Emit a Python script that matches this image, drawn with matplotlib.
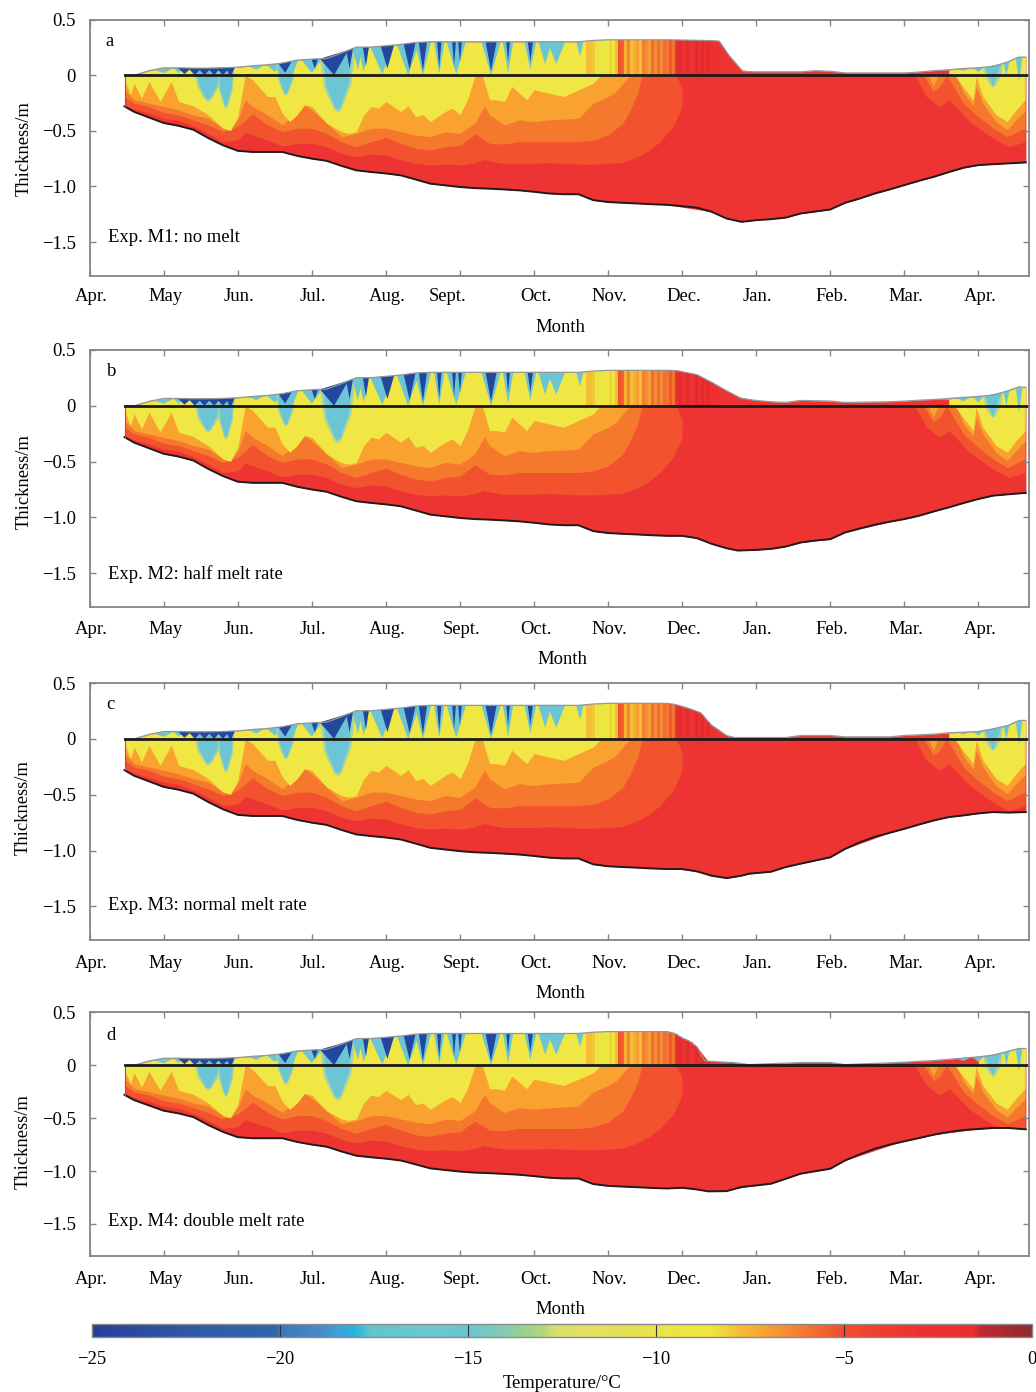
import numpy as np
import matplotlib
matplotlib.use("Agg")
import matplotlib.pyplot as plt
from matplotlib.cm import ScalarMappable
from matplotlib.colors import LinearSegmentedColormap, Normalize
from matplotlib.transforms import ScaledTranslation

plt.rcParams["font.family"] = ["Liberation Serif", "DejaVu Serif"]

W = 1036
H = 1392

month_labels = ["Apr.", "May", "Jun.", "Jul.", "Aug.", "Sept.", "Oct.", "Nov.", "Dec.", "Jan.", "Feb.", "Mar.", "Apr."]
depth_ticks = [0.5, 0, -0.5, -1.0, -1.5]
depth_labels = ["0.5", "0", "\u22120.5", "\u22121.0", "\u22121.5"]
temp_ticks = [-25, -20, -15, -10, -5, 0]
temp_labels = ["\u221225", "\u221220", "\u221215", "\u221210", "\u22125", "0"]

# ice base, April to December (same in all runs)
bottom_x = [0.47, 0.6, 0.8, 1.0, 1.2, 1.4, 1.6, 1.8, 2.0, 2.2, 2.4, 2.6, 2.8, 3.0, 3.2, 3.4, 3.6, 3.8, 4.0, 4.2,
            4.4, 4.6, 4.8, 5.0, 5.2, 5.4, 5.6, 5.8, 6.0, 6.2, 6.4, 6.6, 6.8, 7.0, 7.2, 7.4, 7.6, 7.8]
bottom_y = [-0.28, -0.33, -0.38, -0.43, -0.455, -0.49, -0.565, -0.63, -0.68, -0.69, -0.69, -0.69, -0.725, -0.75,
            -0.77, -0.815, -0.855, -0.87, -0.883, -0.90, -0.937, -0.975, -0.99, -1.005, -1.015, -1.02, -1.027,
            -1.035, -1.048, -1.063, -1.07, -1.07, -1.123, -1.14, -1.147, -1.153, -1.16, -1.165]

# ice base, winter, one for each run
bottom_a_x = [8.0, 8.2, 8.4, 8.6, 8.8, 9.0, 9.2, 9.4, 9.6, 9.8, 10.0, 10.2, 10.4, 10.6, 10.8, 11.0, 11.2, 11.4, 11.6,
              11.8, 12.0, 12.2, 12.4, 12.64]
bottom_a_y = [-1.177, -1.19, -1.228, -1.288, -1.318, -1.303, -1.294, -1.28, -1.243, -1.225, -1.207, -1.147, -1.108,
              -1.063, -1.027, -0.988, -0.949, -0.913, -0.871, -0.832, -0.808, -0.80, -0.793, -0.784]
bottom_b_x = [8.0, 8.2, 8.4, 8.6, 8.75, 9.0, 9.2, 9.4, 9.6, 9.8, 10.0, 10.2, 10.4, 10.6, 10.8, 11.0, 11.2, 11.4, 11.6,
              11.8, 12.0, 12.2, 12.4, 12.64]
bottom_b_y = [-1.165, -1.186, -1.237, -1.276, -1.297, -1.291, -1.282, -1.261, -1.225, -1.207, -1.195, -1.135, -1.099,
              -1.066, -1.039, -1.015, -0.985, -0.946, -0.91, -0.871, -0.835, -0.805, -0.793, -0.78]
bottom_c_x = [8.0, 8.2, 8.4, 8.6, 8.8, 8.9, 9.2, 9.4, 9.6, 10.0, 10.2, 10.4, 10.6, 10.8, 11.0, 11.2, 11.4, 11.6, 11.8,
              12.0, 12.2, 12.4, 12.64]
bottom_c_y = [-1.165, -1.186, -1.225, -1.246, -1.225, -1.207, -1.189, -1.147, -1.117, -1.06, -0.985, -0.925, -0.877,
              -0.841, -0.805, -0.766, -0.73, -0.70, -0.685, -0.667, -0.655, -0.66, -0.655]
bottom_d_x = [8.0, 8.2, 8.35, 8.6, 8.8, 9.0, 9.2, 9.4, 9.6, 10.0, 10.2, 10.4, 10.6, 10.8, 11.0, 11.2, 11.4, 11.6, 11.8,
              12.0, 12.2, 12.4, 12.64]
bottom_d_y = [-1.158, -1.174, -1.192, -1.19, -1.151, -1.136, -1.12, -1.073, -1.025, -0.978, -0.90, -0.842, -0.789,
              -0.751, -0.719, -0.688, -0.656, -0.631, -0.612, -0.603, -0.593, -0.593, -0.606]

# snow surface, April to December
top_x = [0.47, 0.6, 0.8, 1.0, 1.2, 1.4, 1.6, 1.8, 2.0, 2.2, 2.4, 2.6, 2.8, 3.0, 3.2, 3.4, 3.6, 3.8, 4.0, 4.2, 4.4, 4.6,
         6.6, 6.8, 7.0, 7.8]
top_y = [0.0, 0.0, 0.04, 0.066, 0.066, 0.063, 0.063, 0.066, 0.072, 0.084, 0.093, 0.108, 0.135, 0.144, 0.15, 0.198,
         0.252, 0.252, 0.264, 0.276, 0.294, 0.30, 0.30, 0.312, 0.318, 0.318]

# snow surface, winter, one for each run
top_a_x = [8.4, 8.5, 8.64, 8.82, 9.0, 9.6, 9.8, 10.0, 10.2, 11.0, 11.14, 11.4, 11.6, 11.8, 12.0, 12.2, 12.4, 12.54, 12.64]
top_a_y = [0.31, 0.306, 0.17, 0.033, 0.03, 0.03, 0.04, 0.035, 0.02, 0.02, 0.025, 0.04, 0.048, 0.06, 0.066, 0.078, 0.12, 0.162, 0.162]
top_b_x = [7.92, 8.0, 8.2, 8.4, 8.6, 8.8, 9.0, 9.2, 9.4, 9.6, 10.0, 10.2, 10.8, 11.0, 11.2, 11.5, 11.6, 12.0, 12.2, 12.4, 12.55, 12.64]
top_b_y = [0.315, 0.306, 0.279, 0.21, 0.135, 0.066, 0.048, 0.036, 0.03, 0.048, 0.042, 0.03, 0.036, 0.042, 0.05, 0.06, 0.066, 0.084, 0.096, 0.135, 0.17, 0.165]
top_c_x = [7.92, 8.1, 8.25, 8.4, 8.6, 8.7, 9.4, 9.6, 10.0, 10.2, 10.8, 11.0, 11.4, 11.6, 12.0, 12.2, 12.4, 12.55, 12.64]
top_c_y = [0.306, 0.27, 0.234, 0.12, 0.03, 0.012, 0.012, 0.03, 0.03, 0.018, 0.018, 0.03, 0.042, 0.054, 0.066, 0.09, 0.12, 0.165, 0.165]
top_d_x = [7.9, 8.0, 8.1, 8.2, 8.3, 8.35, 8.7, 8.9, 9.6, 10.0, 10.2, 10.9, 11.4, 12.0, 12.2, 12.4, 12.55, 12.64]
top_d_y = [0.30, 0.259, 0.227, 0.174, 0.047, 0.038, 0.025, 0.006, 0.025, 0.025, 0.006, 0.025, 0.044, 0.079, 0.095, 0.132, 0.158, 0.158]

# isotherm depths, growth season
iso1_x = [0.47, 0.6, 0.8, 1.0, 1.2, 1.4, 1.6, 1.8, 2.0, 2.1, 2.2, 2.4, 2.6, 2.8, 3.0, 3.2, 3.4, 3.6, 3.8, 4.0, 4.2, 4.4,
          4.6, 4.8, 5.0, 5.2, 5.33, 5.4, 5.6, 5.8, 6.0, 6.2, 6.4, 6.6, 6.8, 7.0, 7.2, 7.4, 7.56, 7.7, 7.88, 8.0, 8.0, 7.92]
iso1_y = [-0.267, -0.306, -0.342, -0.387, -0.408, -0.456, -0.523, -0.598, -0.583, -0.514, -0.538, -0.583, -0.637,
          -0.613, -0.613, -0.643, -0.703, -0.733, -0.709, -0.718, -0.763, -0.793, -0.808, -0.799, -0.808, -0.787,
          -0.757, -0.772, -0.793, -0.793, -0.793, -0.787, -0.793, -0.799, -0.799, -0.793, -0.784, -0.733, -0.673,
          -0.598, -0.462, -0.282, -0.12, 0.0]
iso2_x = [0.47, 0.6, 0.8, 1.0, 1.2, 1.4, 1.6, 1.8, 2.0, 2.2, 2.4, 2.6, 2.8, 3.0, 3.2, 3.4, 3.6, 3.8, 4.0, 4.2, 4.4, 4.6,
          4.8, 5.0, 5.2, 5.4, 5.6, 5.8, 6.0, 6.2, 6.4, 6.6, 6.8, 7.0, 7.2, 7.3, 7.4, 7.46]
iso2_y = [-0.192, -0.252, -0.282, -0.336, -0.357, -0.402, -0.447, -0.508, -0.462, -0.348, -0.447, -0.508, -0.477,
          -0.477, -0.523, -0.598, -0.643, -0.598, -0.559, -0.613, -0.658, -0.673, -0.643, -0.628, -0.529, -0.613,
          -0.619, -0.598, -0.598, -0.598, -0.598, -0.598, -0.583, -0.538, -0.432, -0.312, -0.162, 0.0]
iso3_x = [0.47, 0.6, 0.8, 1.0, 1.2, 1.4, 1.6, 1.8, 1.9, 2.0, 2.1, 2.2, 2.4, 2.6, 2.8, 2.9, 3.0, 3.2, 3.4, 3.6, 3.8, 4.0,
          4.2, 4.4, 4.6, 4.8, 5.0, 5.2, 5.33, 5.4, 5.6, 5.8, 6.0, 6.2, 6.4, 6.6, 6.8, 7.0, 7.11, 7.2, 7.3]
iso3_y = [-0.132, -0.222, -0.252, -0.282, -0.312, -0.357, -0.387, -0.477, -0.477, -0.402, -0.222, -0.282, -0.357,
          -0.447, -0.327, -0.267, -0.312, -0.432, -0.553, -0.523, -0.477, -0.477, -0.508, -0.538, -0.553, -0.508,
          -0.523, -0.432, -0.276, -0.357, -0.447, -0.402, -0.417, -0.402, -0.396, -0.387, -0.252, -0.192, -0.147,
          -0.072, 0.0]
iso4_x = [0.47, 0.55, 0.6, 0.7, 0.8, 0.95, 1.1, 1.2, 1.4, 1.6, 1.8, 1.9, 2.0, 2.1, 2.2, 2.4, 2.5, 2.6, 2.7, 2.8, 2.9,
          3.0, 3.2, 3.4, 3.5, 3.6, 3.7, 3.8, 3.9, 4.0, 4.1, 4.2, 4.3, 4.4, 4.5, 4.6, 4.8, 4.9, 5.0, 5.1, 5.2, 5.3,
          5.4, 5.5, 5.6, 5.7, 5.8, 5.9, 6.0, 6.2, 6.4, 6.6, 6.8, 6.9]
iso4_y = [-0.042, -0.177, -0.072, -0.207, -0.057, -0.237, -0.057, -0.237, -0.276, -0.357, -0.477, -0.498, -0.372,
          0.0, -0.042, -0.192, -0.192, -0.342, -0.417, -0.357, -0.267, -0.282, -0.432, -0.508, -0.523, -0.508,
          -0.357, -0.282, -0.297, -0.237, -0.282, -0.327, -0.276, -0.372, -0.357, -0.417, -0.327, -0.297, -0.357,
          -0.222, -0.012, 0.0, -0.222, -0.222, -0.237, -0.102, -0.162, -0.222, -0.132, -0.162, -0.192, -0.132,
          -0.072, 0.0]

# isotherm depths, next spring
spr1_x = [11.14, 11.3, 11.48, 11.61, 11.88, 12.2, 12.42, 12.63]
spr1_y = [0.0, -0.192, -0.282, -0.222, -0.417, -0.568, -0.643, -0.598]
spr2_x = [11.25, 11.3, 11.39, 11.48, 11.57, 11.61, 11.8, 11.97, 12.2, 12.39, 12.63]
spr2_y = [0.0, -0.042, -0.147, -0.102, 0.0, -0.042, -0.252, -0.357, -0.477, -0.553, -0.477]
spr3a_x = [11.32, 11.39, 11.46]
spr3a_y = [0.0, -0.10, 0.0]
spr3_x = [11.7, 11.8, 11.93, 11.97, 12.06, 12.24, 12.39, 12.51, 12.63]
spr3_y = [0.0, -0.16, -0.27, -0.10, -0.25, -0.42, -0.49, -0.40, -0.32]
spr4_x = [11.68, 11.79, 11.93, 11.97, 12.06, 12.24, 12.39, 12.51, 12.63]
spr4_y = [0.0, -0.102, -0.222, -0.012, -0.192, -0.357, -0.417, -0.312, -0.222]

# cold tongues from the surface: month, width in months, depth of the tip
cyan_x = [1.0, 1.2, 1.6, 1.84, 2.25, 2.5, 2.65, 2.75, 3.0, 3.35, 3.62, 3.7, 3.95, 4.3, 4.5, 4.72, 4.95, 5.42, 5.65, 5.95,
          6.15, 6.3, 6.62, 11.6, 11.8, 12.0, 12.2, 12.38, 12.55]
cyan_w = [0.28, 0.14, 0.32, 0.20, 0.22, 0.22, 0.22, 0.14, 0.28, 0.40, 0.14, 0.14, 0.32, 0.30, 0.22, 0.14, 0.26, 0.26, 0.14,
          0.16, 0.18, 0.24, 0.10, 0.20, 0.20, 0.15, 0.22, 0.08, 0.08]
cyan_d = [0.02, 0.02, -0.22, -0.28, 0.05, 0.03, -0.17, 0.03, 0.02, -0.31, 0.05, 0.03, 0.01, 0.0, 0.0, 0.01, 0.01, 0.0, 0.02,
          0.05, 0.10, 0.10, 0.17, 0.05, 0.04, 0.03, -0.10, 0.0, -0.05]
blue_x = [1.28, 1.42, 1.55, 1.68, 1.8, 1.9, 2.64, 3.04, 3.3, 3.51, 3.73, 4.02, 4.32, 4.5, 4.72, 4.92, 5.0, 5.42, 5.65, 5.95]
blue_w = [0.18, 0.18, 0.18, 0.18, 0.18, 0.12, 0.18, 0.09, 0.38, 0.09, 0.08, 0.18, 0.16, 0.11, 0.06, 0.05, 0.05, 0.15, 0.05, 0.07]
blue_d = [0.01, 0.0, 0.0, 0.0, 0.0, -0.02, 0.02, 0.06, 0.0, 0.06, 0.08, 0.06, 0.05, 0.04, 0.07, 0.08, 0.12, 0.04, 0.12, 0.12]

# snow temperature stripes, November and December
stripe_x = [6.72, 6.76, 6.80, 6.84, 6.88, 6.92, 6.96, 7.00, 7.04, 7.08, 7.12, 7.16, 7.20, 7.24, 7.28, 7.32, 7.36, 7.40,
            7.44, 7.48, 7.52, 7.56, 7.60, 7.64, 7.68, 7.72, 7.76, 7.80, 7.84, 7.88, 7.92, 7.96, 8.00, 8.04, 8.08, 8.12,
            8.16, 8.20, 8.24, 8.28, 8.32, 8.36, 8.40, 8.44, 8.48]
stripe_t = [-7.8, -7.8, -8, -8.5, -9, -8.5, -9, -9, -8.2, -8.5, -7.7, -5.2, -5.5, -7.5, -6.3, -7.8, -7.5, -7, -7.8, -6.2,
            -6.5, -7, -5.8, -6.5, -5.8, -6.5, -5.8, -6, -5.3, -6, -3, -1.5, -2.5, -3, -1.5, -3, -3, -1.5, -3, -1.5, -2.5,
            -1.5, -2.5, -3, -3]

# colour bar stops, temperature against colour
cbar_t = [-25, -24, -22, -20.1, -20, -19, -18.5, -18, -17.6, -16, -15, -14, -13.5, -13, -12.7, -12, -10.5, -10, -8.5,
          -8, -7.5, -6.5, -5.5, -5, -3, -1.5, -1.4, 0]
cbar_c = ["#263c97", "#2b4a9e", "#2f5da6", "#2e66ae", "#3a78bb", "#4889c6", "#3fa0d8", "#29b4e0", "#62c6cc", "#6bc7cf",
          "#68c5d0", "#86cbb0", "#9ad08c", "#b2d77d", "#d8df6a", "#e2e062", "#e5df52", "#ebe44a", "#eee53c", "#f2c93b",
          "#f6b233", "#f58b34", "#f2622e", "#ef4c30", "#ee3130", "#ec2f2d", "#c52a32", "#8e2a30"]

panel_tags = ["a", "b", "c", "d"]
panel_notes = ["Exp. M1: no melt", "Exp. M2: half melt rate", "Exp. M3: normal melt rate", "Exp. M4: double melt rate"]
panel_top = [19.5, 350, 683, 1012.3]
panel_bot = [275.5, 606.7, 940, 1255.7]
month_title_x = [560, 562, 560, 560]
month_title_y = [328, 659, 993, 1309]
depth_title_x = [24, 24, 23, 23]
depth_title_y = [149, 482, 808, 1142]
tag_xy = [(110, 41), (112, 371), (110, 704), (111, 1036)]
note_y = [238, 574, 906, 1222]
tick_pad = [9.0, 10.3, 10.9, 10.9]

winter_bottom = [(bottom_a_x, bottom_a_y), (bottom_b_x, bottom_b_y), (bottom_c_x, bottom_c_y), (bottom_d_x, bottom_d_y)]
winter_top = [(top_a_x, top_a_y), (top_b_x, top_b_y), (top_c_x, top_c_y), (top_d_x, top_d_y)]

RED = "#ee3333"
RED_ORANGE = "#f2522d"
ORANGE = "#f5792c"
LIGHT_ORANGE = "#f9a22f"
YELLOW = "#f0e644"
CYAN = "#6bc5d4"
HALO = "#a3d3a8"
DARK_BLUE = "#23479f"
GREY = "#858585"
FS = 13.4

cmap = LinearSegmentedColormap.from_list(
    "temp", [((t + 25) / 25, c) for t, c in zip(cbar_t, cbar_c)], N=512)
norm = Normalize(-25, 0)

fig = plt.figure(figsize=(W / 100, H / 100), dpi=100)


def add_axes_px(left, top, right, bot):
    return fig.add_axes([left / W, 1 - bot / H, (right - left) / W, (bot - top) / H])


def fig_text(x, y, s, **kw):
    fig.text(x / W, 1 - y / H, s, ha="center", va="center", fontsize=FS, **kw)


def tongue(ax, x, w, tip, surf, color):
    # wide drops below sea level, plain wedges in the snow
    if tip < -0.1:
        xs = np.array([x - w / 2, x - w * 0.38, x - w * 0.1, x, x + w * 0.1, x + w * 0.38, x + w / 2])
        top = np.interp(xs, surf[0], surf[1])
        ys = [top[0], top[1] + (tip - top[1]) * 0.55, top[2] + (tip - top[2]) * 0.95, tip,
              top[4] + (tip - top[4]) * 0.95, top[5] + (tip - top[5]) * 0.55, top[6]]
        ax.fill(list(xs), ys, color=color, lw=0)
    else:
        xs = np.array([x - w / 2, x + w / 2])
        top = np.interp(xs, surf[0], surf[1])
        ax.fill([xs[0], x, xs[1]], [top[0], tip, top[1]], color=color, lw=0)


def draw_panel(i):
    ax = add_axes_px(89.7, panel_top[i], 1028.7, panel_bot[i])
    bx = np.array(bottom_x + winter_bottom[i][0])
    by = np.array(bottom_y + winter_bottom[i][1])
    sx = np.array(top_x + winter_top[i][0])
    sy = np.array(top_y + winter_top[i][1])

    ax.fill_between(sx, np.interp(sx, bx, by), sy, color=RED, lw=0)
    ax.fill_between(bx, by, np.interp(bx, sx, sy), color=RED, lw=0)

    bands = [(iso1_x, iso1_y, RED_ORANGE), (spr1_x, spr1_y, RED_ORANGE),
             (iso2_x, iso2_y, ORANGE), (spr2_x, spr2_y, ORANGE),
             (iso3_x, iso3_y, LIGHT_ORANGE), (spr3a_x, spr3a_y, LIGHT_ORANGE), (spr3_x, spr3_y, LIGHT_ORANGE),
             (iso4_x, iso4_y, YELLOW), (spr4_x, spr4_y, YELLOW)]
    for x, y, c in bands:
        x = np.array(x)
        ax.fill_between(x, np.maximum(y, np.interp(x, bx, by)), 0, color=c, lw=0)

    # snow above the sea level
    for a, b in [(0.47, 6.9), (11.57, 12.64)]:
        x = sx[(sx >= a) & (sx <= b)]
        ax.fill_between(x, 0, np.interp(x, sx, sy), color=YELLOW, lw=0)

    for x, w, d in zip(cyan_x, cyan_w, cyan_d):
        if d < 0:
            tongue(ax, x, w * 1.2, d * 1.08, (sx, sy), HALO)
        tongue(ax, x, w, d, (sx, sy), CYAN)
    for x, w, d in zip(blue_x, blue_w, blue_d):
        tongue(ax, x, w, d, (sx, sy), DARK_BLUE)

    ax.bar(stripe_x, np.interp(stripe_x, sx, sy), width=0.042, align="center",
           color=cmap(norm(stripe_t)), lw=0)

    ax.plot(sx, sy, color="#969696", lw=0.9)
    ax.plot(bx, by, color="#241a1a", lw=1.4)
    ax.plot([0.47, 0.47], [by[0], 0], color=RED, lw=0.8)
    ax.plot([0.47, 12.68], [0, 0], color="#1a1a1a", lw=2.0)

    ax.set_xlim(0, 12.68)
    ax.set_ylim(-1.8, 0.5)
    ax.set_xticks(range(len(month_labels)))
    ax.set_xticklabels(month_labels, fontsize=FS)
    ax.set_yticks(depth_ticks)
    ax.set_yticklabels(depth_labels, fontsize=FS)
    ax.tick_params(axis="x", direction="in", top=True, length=4.3, width=1, color=GREY, pad=tick_pad[i])
    ax.tick_params(axis="y", direction="in", right=True, length=4.3, width=1, color=GREY, pad=10)
    for sp in ax.spines.values():
        sp.set_color(GREY)
        sp.set_linewidth(1.3)

    # labels sit a little right of their ticks; first panel has Sept. pushed left
    for k, lab in enumerate(ax.get_xticklabels()):
        dx = -0.125 if (i == 0 and k == 5) else 0.015
        lab.set_transform(lab.get_transform() + ScaledTranslation(dx, 0, fig.dpi_scale_trans))

    fig_text(tag_xy[i][0], tag_xy[i][1], panel_tags[i])
    fig.text(108 / W, 1 - note_y[i] / H, panel_notes[i], ha="left", va="center", fontsize=FS)
    fig_text(month_title_x[i], month_title_y[i], "Month")
    fig_text(depth_title_x[i], depth_title_y[i], "Thickness/m", rotation=90)


for i in range(4):
    draw_panel(i)

cax = add_axes_px(92, 1324, 1032, 1337)
cb = fig.colorbar(ScalarMappable(norm=norm, cmap=cmap), cax=cax, orientation="horizontal", ticks=temp_ticks)
cb.set_ticklabels(temp_labels, fontsize=FS)
cb.ax.tick_params(direction="in", length=9.4, width=0.8, color="#333333", pad=10)
cb.outline.set_edgecolor("#8a8a8a")
cb.outline.set_linewidth(1.0)
fig_text(562, 1384, "Temperature/\u00b0C")

fig.savefig("out.png", dpi=100)
